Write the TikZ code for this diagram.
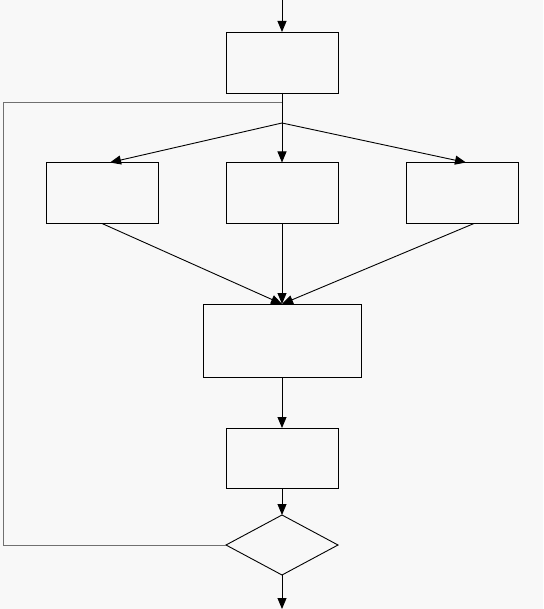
\documentclass[tikz,border=0pt]{standalone}
\usetikzlibrary{arrows.meta,shapes.geometric}
\definecolor{bgcol}{HTML}{F8F8F8}
\definecolor{loopcol}{HTML}{707070}
\tikzset{
  stepbox/.style={draw,rectangle,inner sep=0pt,outer sep=0pt,minimum width=112pt,minimum height=61pt},
  testbox/.style={draw,diamond,inner sep=0pt,outer sep=0pt,minimum width=112pt,minimum height=60pt,aspect=1.87},
  flow/.style={-{Triangle[length=11pt,width=9pt]}}
}
\begin{document}
\begin{tikzpicture}[x=1pt,y=-1pt,line width=0.9pt]
  \fill[bgcol] (0,0) rectangle (543,609);
  \useasboundingbox (0,0) rectangle (543,609);
  % boxes
  \node[stepbox] (start) at (282,62.5) {};
  \node[stepbox] (left) at (102,193) {};
  \node[stepbox] (mid) at (282,193) {};
  \node[stepbox] (right) at (462,193) {};
  \node[stepbox,minimum width=158pt,minimum height=73pt] (merge) at (282,340.5) {};
  \node[stepbox,minimum height=60pt] (work) at (282,458) {};
  \node[testbox] (test) at (282,545) {};
  \coordinate (in) at (282,0);
  \coordinate (out) at (282,609);
  \coordinate (split) at (282,123);
  \coordinate (join) at (282,102);
  % arrows
  \draw[flow] (in) -- (start.north);
  \draw (start.south) -- (split);
  \draw[flow] (split) -- ([xshift=8pt]left.north);
  \draw[flow] (split) -- (mid.north);
  \draw[flow] (split) -- ([xshift=4pt]right.north);
  \draw[flow] (left.south) -- (merge.north);
  \draw[flow] (mid.south) -- (merge.north);
  \draw[flow] ([xshift=12pt]right.south) -- (merge.north);
  \draw[flow] (merge.south) -- (work.north);
  \draw[flow] (work.south) -- (test.north);
  \draw[flow] (test.south) -- (out);
  % loop back
  \draw[loopcol] (test.west) -| (3,102) -- (join);
\end{tikzpicture}
\end{document}
